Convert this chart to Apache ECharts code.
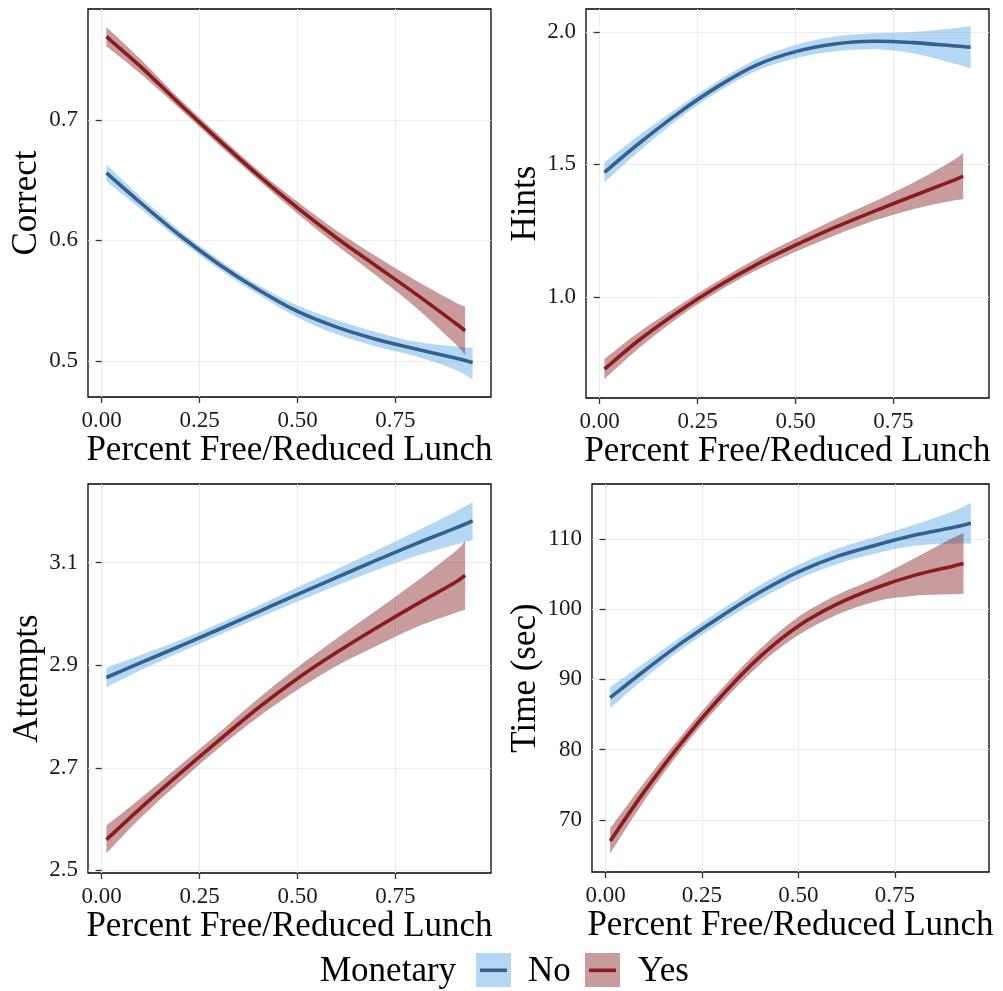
<!DOCTYPE html>
<html lang="en">
<head>
    <meta charset="UTF-8">
    <title>Monetary incentive by free/reduced lunch share</title>
    <script src="https://cdn.jsdelivr.net/npm/echarts@6/dist/echarts.min.js"></script>
    <style>
        html, body {
            margin: 0;
            padding: 0;
            background: #fff;
        }
        #chart {
            width: 1003px;
            height: 991px;
        }
    </style>
</head>
<body>
<div id="chart"></div>
<script>
    // x positions of the fitted curves (share of students on free/reduced lunch)
    var xNo = [0.012, 0.1, 0.2, 0.3, 0.4, 0.5, 0.6, 0.7, 0.8, 0.9, 0.947];
    var xYes = [0.012, 0.1, 0.2, 0.3, 0.4, 0.5, 0.6, 0.7, 0.8, 0.9, 0.928];
    var xTicks = [0, 0.25, 0.5, 0.75];

    var correctNoFit = [0.656, 0.631, 0.604, 0.580, 0.559, 0.541, 0.528, 0.518, 0.510, 0.5025, 0.4985];
    var correctNoLo = [0.649, 0.626, 0.600, 0.576, 0.555, 0.536, 0.522, 0.512, 0.504, 0.493, 0.4845];
    var correctNoHi = [0.663, 0.636, 0.608, 0.584, 0.563, 0.546, 0.534, 0.524, 0.516, 0.512, 0.511];
    var correctYesFit = [0.769, 0.744, 0.713, 0.683, 0.654, 0.627, 0.602, 0.579, 0.556, 0.532, 0.525];
    var correctYesLo = [0.761, 0.738, 0.709, 0.679, 0.650, 0.622, 0.596, 0.571, 0.545, 0.515, 0.505];
    var correctYesHi = [0.777, 0.750, 0.717, 0.687, 0.658, 0.632, 0.608, 0.587, 0.567, 0.549, 0.545];
    var correctTicks = [0.5, 0.6, 0.7];

    var hintsNoFit = [1.470, 1.579, 1.693, 1.793, 1.875, 1.926, 1.955, 1.965, 1.960, 1.948, 1.943];
    var hintsNoLo = [1.432, 1.549, 1.671, 1.773, 1.853, 1.901, 1.927, 1.935, 1.920, 1.883, 1.863];
    var hintsNoHi = [1.508, 1.609, 1.715, 1.813, 1.897, 1.951, 1.983, 1.995, 2.000, 2.013, 2.023];
    var hintsYesFit = [0.727, 0.836, 0.943, 1.038, 1.122, 1.195, 1.262, 1.323, 1.381, 1.438, 1.456];
    var hintsYesLo = [0.689, 0.806, 0.921, 1.018, 1.100, 1.170, 1.232, 1.287, 1.331, 1.363, 1.369];
    var hintsYesHi = [0.765, 0.866, 0.965, 1.058, 1.144, 1.220, 1.292, 1.359, 1.431, 1.513, 1.543];
    var hintsTicks = [1.0, 1.5, 2.0];

    var attemptsNoFit = [2.876, 2.905, 2.937, 2.970, 3.004, 3.038, 3.071, 3.104, 3.136, 3.166, 3.181];
    var attemptsNoLo = [2.857, 2.890, 2.925, 2.959, 2.992, 3.024, 3.055, 3.085, 3.112, 3.134, 3.144];
    var attemptsNoHi = [2.895, 2.920, 2.949, 2.981, 3.016, 3.052, 3.087, 3.123, 3.160, 3.198, 3.218];
    var attemptsYesFit = [2.560, 2.622, 2.689, 2.754, 2.817, 2.874, 2.925, 2.972, 3.017, 3.060, 3.075];
    var attemptsYesLo = [2.533, 2.603, 2.673, 2.739, 2.799, 2.852, 2.899, 2.937, 2.973, 3.001, 3.008];
    var attemptsYesHi = [2.587, 2.641, 2.705, 2.769, 2.835, 2.896, 2.952, 3.006, 3.061, 3.120, 3.142];
    var attemptsTicks = [2.5, 2.7, 2.9, 3.1];

    var timeNoFit = [87.4, 91.2, 95.3, 99.0, 102.4, 105.3, 107.5, 109.1, 110.5, 111.6, 112.2];
    var timeNoLo = [85.9, 90.1, 94.4, 98.1, 101.4, 104.3, 106.4, 107.9, 109.0, 109.3, 109.3];
    var timeNoHi = [88.9, 92.3, 96.2, 99.9, 103.4, 106.3, 108.6, 110.3, 112.0, 113.9, 115.1];
    var timeYesFit = [67.0, 74.0, 81.2, 87.6, 93.2, 97.6, 100.7, 103.0, 104.8, 106.1, 106.5];
    var timeYesLo = [65.2, 72.7, 80.2, 86.6, 92.1, 96.3, 99.2, 101.1, 101.9, 102.1, 102.2];
    var timeYesHi = [68.8, 75.3, 82.2, 88.6, 94.3, 98.9, 102.0, 104.4, 107.2, 110.1, 110.8];
    var timeTicks = [70, 80, 90, 100, 110];

    var SERIF = "'Liberation Serif', 'Times New Roman', serif";
    var NO_LINE = "#35618f", YES_LINE = "#8c1c1c";
    var NO_BAND = "rgba(88,166,228,0.45)", YES_BAND = "rgba(133,35,35,0.45)";

    var panels = [
        {title: "Correct", grid: {left: 88, top: 9, width: 403, height: 388}, y: [0.470, 0.792], ticks: correctTicks, dec: 1, gap: 44,
            no: [correctNoFit, correctNoLo, correctNoHi], yes: [correctYesFit, correctYesLo, correctYesHi]},
        {title: "Hints", grid: {left: 586, top: 9, width: 403, height: 389}, y: [0.618, 2.087], ticks: hintsTicks, dec: 1, gap: 43,
            no: [hintsNoFit, hintsNoLo, hintsNoHi], yes: [hintsYesFit, hintsYesLo, hintsYesHi]},
        {title: "Attempts", grid: {left: 88, top: 484, width: 403, height: 389}, y: [2.495, 3.253], ticks: attemptsTicks, dec: 1, gap: 43,
            no: [attemptsNoFit, attemptsNoLo, attemptsNoHi], yes: [attemptsYesFit, attemptsYesLo, attemptsYesHi]},
        {title: "Time (sec)", grid: {left: 592, top: 484, width: 397, height: 388}, y: [62.6, 117.8], ticks: timeTicks, dec: 0, gap: 49,
            no: [timeNoFit, timeNoLo, timeNoHi], yes: [timeYesFit, timeYesLo, timeYesHi]}
    ];

    // Catmull-Rom through pixel points, written as cubic bezier segments
    function curve(pts) {
        var d = "";
        for (var i = 0; i < pts.length - 1; i++) {
            var p0 = pts[Math.max(i - 1, 0)], p1 = pts[i], p2 = pts[i + 1], p3 = pts[Math.min(i + 2, pts.length - 1)];
            d += " C" + (p1[0] + (p2[0] - p0[0]) / 6) + " " + (p1[1] + (p2[1] - p0[1]) / 6) +
                " " + (p2[0] - (p3[0] - p1[0]) / 6) + " " + (p2[1] - (p3[1] - p1[1]) / 6) +
                " " + p2[0] + " " + p2[1];
        }
        return d;
    }

    // confidence ribbon: one closed path per group, drawn on the first item
    function bandSeries(i, xs, lo, hi, color) {
        return {
            type: "custom",
            xAxisIndex: i,
            yAxisIndex: i,
            silent: true,
            z: 1,
            data: xs.map(function (x, k) { return [x, lo[k], hi[k]]; }),
            encode: {x: 0, y: [1, 2]},
            renderItem: function (params, api) {
                if (params.dataIndex !== 0) return null;
                var top = xs.map(function (x, k) { return api.coord([x, hi[k]]); });
                var bot = xs.map(function (x, k) { return api.coord([x, lo[k]]); }).reverse();
                var d = "M" + top[0][0] + " " + top[0][1] + curve(top) +
                    " L" + bot[0][0] + " " + bot[0][1] + curve(bot) + " Z";
                return {type: "path", shape: {pathData: d}, style: {fill: color}};
            }
        };
    }

    // fitted curve, same spline as the ribbon
    function lineSeries(i, xs, fit, color) {
        return {
            type: "custom",
            xAxisIndex: i,
            yAxisIndex: i,
            silent: true,
            z: 2,
            data: xs.map(function (x, k) { return [x, fit[k]]; }),
            encode: {x: 0, y: 1},
            renderItem: function (params, api) {
                if (params.dataIndex !== 0) return null;
                var pts = xs.map(function (x, k) { return api.coord([x, fit[k]]); });
                var d = "M" + pts[0][0] + " " + pts[0][1] + curve(pts);
                return {type: "path", shape: {pathData: d},
                    style: {fill: "none", stroke: color, lineWidth: 3.6, lineCap: "butt", lineJoin: "round"}};
            }
        };
    }

    var grids = [], xAxes = [], yAxes = [], series = [];
    panels.forEach(function (p, i) {
        grids.push(Object.assign({show: true, borderColor: "#000", borderWidth: 1.3, backgroundColor: "transparent"}, p.grid));
        xAxes.push({
            type: "value", gridIndex: i, min: -0.035, max: 0.994,
            axisLine: {show: false},
            axisTick: {show: true, length: 6, customValues: xTicks, lineStyle: {color: "#333", width: 1.3}},
            axisLabel: {customValues: xTicks, margin: 12, fontFamily: SERIF, fontSize: 23, color: "#1a1a1a",
                formatter: function (v) { return v.toFixed(2); }},
            splitLine: {show: true, lineStyle: {color: "#ededed", width: 1}},
            name: "Percent Free/Reduced Lunch", nameLocation: "middle", nameGap: 29,
            nameTextStyle: {fontFamily: SERIF, fontSize: 35, color: "#000"}
        });
        yAxes.push({
            type: "value", gridIndex: i, min: p.y[0], max: p.y[1],
            axisLine: {show: false},
            axisTick: {show: true, length: 6, customValues: p.ticks, lineStyle: {color: "#333", width: 1.3}},
            axisLabel: {customValues: p.ticks, margin: 10, fontFamily: SERIF, fontSize: 23, color: "#1a1a1a",
                formatter: function (v) { return v.toFixed(p.dec); }},
            splitLine: {show: true, lineStyle: {color: "#ededed", width: 1}},
            name: p.title, nameLocation: "middle", nameGap: p.gap,
            nameTextStyle: {fontFamily: SERIF, fontSize: 35, color: "#000"}
        });
        series.push(bandSeries(i, xNo, p.no[1], p.no[2], NO_BAND));
        series.push(lineSeries(i, xNo, p.no[0], NO_LINE));
        series.push(bandSeries(i, xYes, p.yes[1], p.yes[2], YES_BAND));
        series.push(lineSeries(i, xYes, p.yes[0], YES_LINE));
    });

    var legendFont = "35px " + SERIF;
    var chart = echarts.init(document.getElementById("chart"));
    chart.setOption({
        animation: false,
        backgroundColor: "#fff",
        grid: grids,
        xAxis: xAxes,
        yAxis: yAxes,
        series: series,
        graphic: [
            {type: "text", x: 320, y: 971.5, style: {text: "Monetary", font: legendFont, fill: "#000", verticalAlign: "middle"}},
            {type: "rect", shape: {x: 476, y: 953, width: 35, height: 34}, style: {fill: NO_BAND}},
            {type: "line", shape: {x1: 480, y1: 970.3, x2: 507, y2: 970.3}, style: {stroke: NO_LINE, lineWidth: 3.6}},
            {type: "text", x: 528, y: 971.5, style: {text: "No", font: legendFont, fill: "#000", verticalAlign: "middle"}},
            {type: "rect", shape: {x: 585, y: 953, width: 35, height: 34}, style: {fill: YES_BAND}},
            {type: "line", shape: {x1: 589, y1: 970.3, x2: 616, y2: 970.3}, style: {stroke: YES_LINE, lineWidth: 3.6}},
            {type: "text", x: 638, y: 971.5, style: {text: "Yes", font: legendFont, fill: "#000", verticalAlign: "middle"}}
        ]
    });
</script>
</body>
</html>
